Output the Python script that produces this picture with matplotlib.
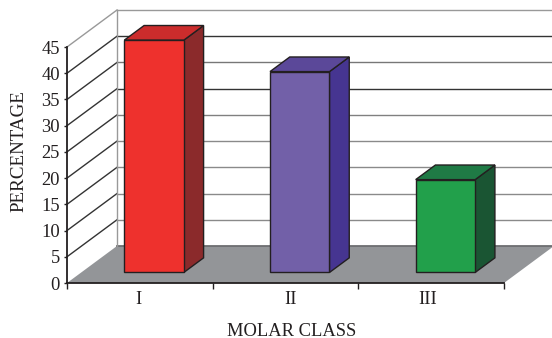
import matplotlib
matplotlib.use("Agg")
import matplotlib.pyplot as plt
from matplotlib.patches import Polygon

categories = ["I", "II", "III"]
values = [44.3, 38.3, 17.7]
y_ticks = [0, 5, 10, 15, 20, 25, 30, 35, 40, 45]
front_colors = ["#EE312D", "#7260A8", "#22A04B"]
side_colors = ["#8B2A2B", "#463591", "#1A5533"]
top_colors = ["#CB2C2C", "#5B4899", "#1F7A45"]
grid_colors = ["#6D6E71", "#8A8A8A", "#8A8A8A", "#8A8A8A", "#8A8A8A",
               "#808080", "#333333", "#777777", "#333333", "#999999"]
diag_colors = ["#888888", "#333333", "#333333", "#333333", "#333333",
               "#333333", "#333333", "#333333", "#333333", "#999999"]

W, H = 552, 338
plt.rcParams["font.family"] = ["Liberation Serif", "DejaVu Serif"]
fig = plt.figure(figsize=(W / 100, H / 100), dpi=100)
ax = fig.add_axes([67 / W, 1 - 283 / H, (504 - 67) / W, (283 - 47) / H])
ax.set_xlim(0, 3)
ax.set_ylim(0, 45)

# oblique projection: depth 1 = back wall
DX = 50 / (437 / 3)
DY = 37 / (236 / 45)
INK = "#231F20"


def proj(x, v, d):
    return (x + d * DX, v + d * DY)


def poly(pts, color, z, edge=None, lw=0):
    ax.add_patch(Polygon(pts, closed=True, facecolor=color,
                         edgecolor=edge if edge else "none", linewidth=lw,
                         clip_on=False, zorder=z, joinstyle="miter"))


# floor
poly([proj(0, 0, 0), proj(3, 0, 0), proj(3, 0, 1), proj(0, 0, 1)], "#939598", 1)

# walls' grid lines
for v, gc, dc in zip(y_ticks, grid_colors, diag_colors):
    lw = 1.3 if v == 0 else 1.0
    a = proj(0, v, 0)
    b = proj(0, v, 1)
    c = proj(3, v, 1)
    if v > 0:
        ax.plot([a[0], b[0]], [a[1], b[1]], color=dc, lw=1.0, clip_on=False, zorder=2)
    ax.plot([b[0], c[0]], [b[1], c[1]], color=gc, lw=lw, clip_on=False, zorder=2)
b0 = proj(0, 0, 1)
b1 = proj(0, 45, 1)
ax.plot([b0[0], b1[0]], [b0[1], b1[1]], color="#999999", lw=1.0, clip_on=False, zorder=2)

# bars
D0, D1 = 0.285, 0.68
BAR_W = 59.5 / (437 / 3)
positions = [i + 0.5 for i in range(len(categories))]
offset_x, offset_y = proj(0, 0, D0)
EDGE = dict(edgecolor=INK, linewidth=1.0)
ax.bar([p + offset_x for p in positions], values, width=BAR_W, bottom=offset_y,
       color=front_colors, clip_on=False, zorder=4, **EDGE)
for p, val, sc, tc in zip(positions, values, side_colors, top_colors):
    xl = p - BAR_W / 2
    xr = p + BAR_W / 2
    poly([proj(xr, 0, D0), proj(xr, 0, D1), proj(xr, val, D1), proj(xr, val, D0)],
         sc, 3, INK, 1.0)
    poly([proj(xl, val, D0), proj(xr, val, D0), proj(xr, val, D1), proj(xl, val, D1)],
         tc, 3, INK, 1.0)

# axes
for s in ("top", "right"):
    ax.spines[s].set_visible(False)
for s in ("left", "bottom"):
    ax.spines[s].set_color(INK)
    ax.spines[s].set_linewidth(1.3)
    ax.spines[s].set_zorder(5)
ax.patch.set_alpha(0)
ax.set_yticks(y_ticks)
ax.set_xticks([0, 1, 2, 3])
ax.set_xticklabels([])
ax.tick_params(axis="y", length=2, width=1.0, color=INK, labelcolor=INK, labelsize=13.3, pad=3)
ax.tick_params(axis="x", length=4, width=1.0, color=INK)

label_pos = [0.487, 1.537, 2.477]
for lp, c in zip(label_pos, categories):
    ax.annotate(c, xy=(lp, 0), xytext=(0, -5.5), textcoords="offset points",
                ha="center", va="top", fontsize=13.3, color=INK, annotation_clip=False)

fig.text(292 / W, 1 - 331 / H, "MOLAR CLASS", ha="center", va="center", fontsize=13.3, color=INK)
fig.text(18.5 / W, 1 - 151 / H, "PERCENTAGE", rotation=90, ha="center", va="center",
         fontsize=13.7, color=INK)

fig.savefig("out.png", dpi=100)
